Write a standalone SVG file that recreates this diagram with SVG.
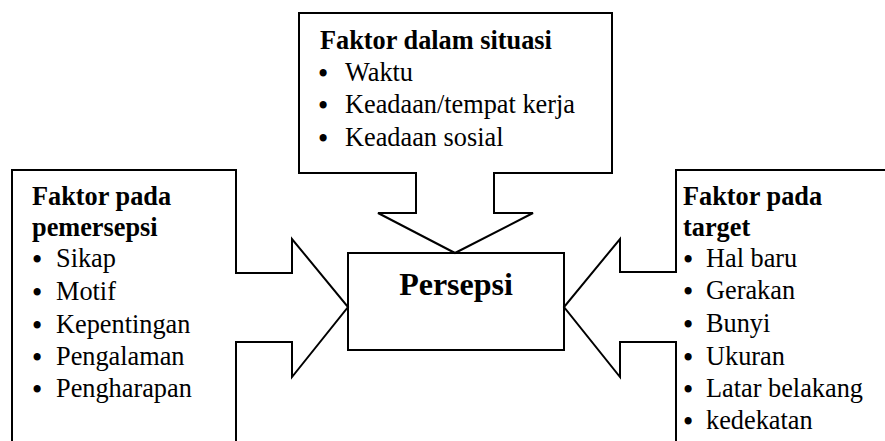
<svg xmlns="http://www.w3.org/2000/svg" width="885" height="441" viewBox="0 0 885 441">
<style>
.ln{fill:none;stroke:#000;stroke-width:2;stroke-linecap:square;stroke-linejoin:miter}
text{font-family:'Liberation Serif','Times New Roman',serif;fill:#000}
.t{font-size:26.3px}
.b{font-weight:bold}
.bu{font-size:26.3px;text-anchor:middle;font-weight:bold}
.big{font-size:32px;font-weight:bold;text-anchor:middle}
</style>
<rect width="885" height="441" fill="#fff"/>
<g id="node-situasi">
<path class="ln" d="M416,173 H299 V13 H612 V173 H494"/>
<text class="t b" x="320" y="49">Faktor dalam situasi</text>
<text class="bu" x="323" y="82">•</text><text class="t" x="345" y="81">Waktu</text>
<text class="bu" x="323" y="114">•</text><text class="t" x="345" y="113">Keadaan/tempat kerja</text>
<text class="bu" x="323" y="147">•</text><text class="t" x="345" y="146">Keadaan sosial</text>
</g>
<g id="node-pemersepsi">
<path class="ln" d="M12,445 V170 H236 V273 M236,342 V445"/>
<text class="t b" x="32" y="205">Faktor pada</text>
<text class="t b" x="32" y="236">pemersepsi</text>
<text class="bu" x="37" y="268">•</text><text class="t" x="56" y="267">Sikap</text>
<text class="bu" x="37" y="301">•</text><text class="t" x="56" y="300">Motif</text>
<text class="bu" x="37" y="334">•</text><text class="t" x="56" y="333">Kepentingan</text>
<text class="bu" x="37" y="366">•</text><text class="t" x="56" y="365">Pengalaman</text>
<text class="bu" x="37" y="398">•</text><text class="t" x="56" y="397">Pengharapan</text>
</g>
<g id="node-target">
<path class="ln" d="M890,170 H676 V272 M676,342 V445"/>
<text class="t b" x="683" y="205">Faktor pada</text>
<text class="t b" x="683" y="236">target</text>
<text class="bu" x="688" y="268">•</text><text class="t" x="706" y="267">Hal baru</text>
<text class="bu" x="688" y="300">•</text><text class="t" x="706" y="299">Gerakan</text>
<text class="bu" x="688" y="333">•</text><text class="t" x="706" y="332">Bunyi</text>
<text class="bu" x="688" y="366">•</text><text class="t" x="706" y="365">Ukuran</text>
<text class="bu" x="688" y="398">•</text><text class="t" x="706" y="397">Latar belakang</text>
<text class="bu" x="688" y="430">•</text><text class="t" x="706" y="429">kedekatan</text>
</g>
<g id="node-persepsi">
<rect class="ln" x="348" y="253" width="216" height="97"/>
<text class="big" x="456" y="295">Persepsi</text>
</g>
<g id="connectors">
<path class="ln" d="M416,173 V213 H378 L455,253 L533,213 H494 V173"/>
<path class="ln" d="M236,273 H292 V239 L348,307 L292,377 V342 H236"/>
<path class="ln" d="M676,272 H620 V239 L564,307 L620,377 V342 H676"/>
</g>
</svg>
